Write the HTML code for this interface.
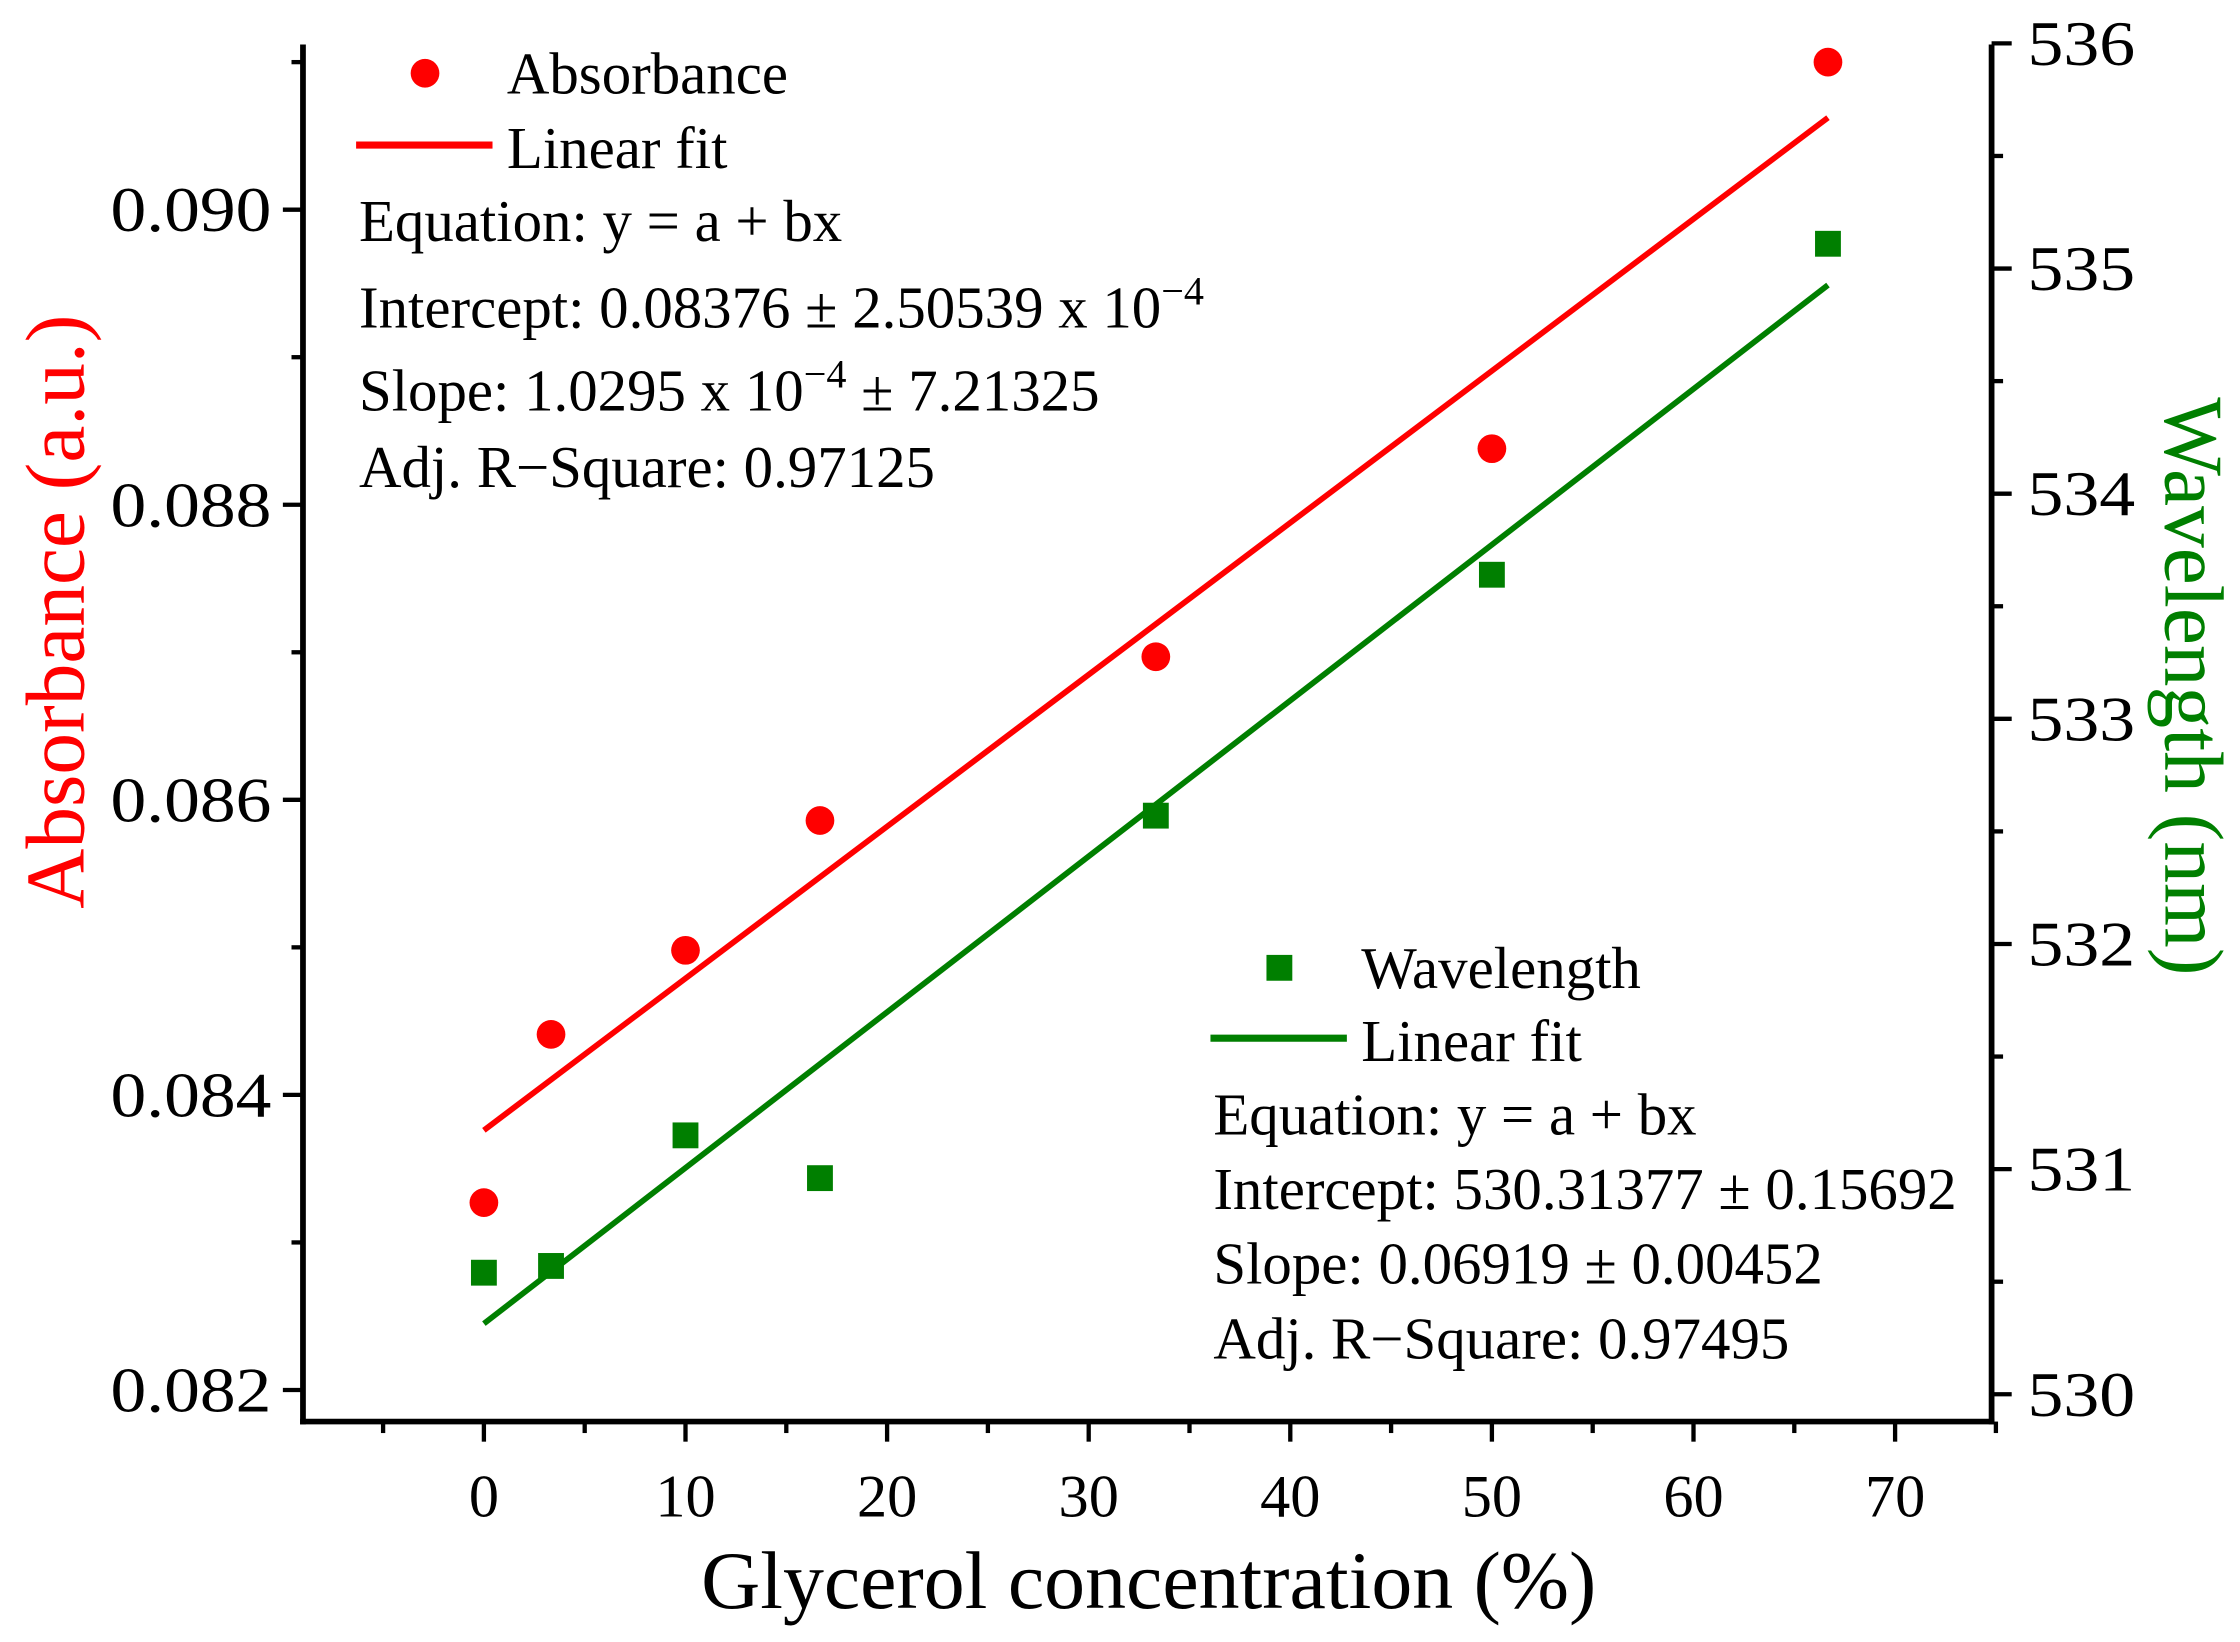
<!DOCTYPE html>
<html><head><meta charset="utf-8"><style>
html,body{margin:0;padding:0;background:#fff}
svg{display:block;font-family:"Liberation Serif",serif}
</style></head><body>
<svg id="chart" width="2240" height="1642" viewBox="0 0 1560 1143.5" xmlns="http://www.w3.org/2000/svg"></svg>
<script>
const xValues=[0,3.33,10,16.67,33.33,50,66.67];
const absValues=[0.08327,0.08441,0.08498,0.08586,0.08697,0.08838,0.0910];
const wlValues=[530.54,530.57,531.15,530.96,532.57,533.64,535.11];
const absFit=[0.08376,1.0295e-4];
const wlFit=[530.31377,0.06919];
const xTicks=[0,10,20,30,40,50,60,70];
const xMinor=[-5,5,15,25,35,45,55,65,75];
const yTicks=[0.082,0.084,0.086,0.088,0.090];
const yMinor=[0.083,0.085,0.087,0.089,0.091];
const y2Ticks=[530,531,532,533,534,535,536];
const y2Minor=[530.5,531.5,532.5,533.5,534.5,535.5];

const L=211,R=1387,T=31,B=990;
const sx=v=>337+(v-0)*14.04;
const sy=v=>968-(v-0.082)*102750;
const sy2=v=>971-(v-530)*156.8;
const svg=document.getElementById('chart');
const NS='http://www.w3.org/2000/svg';
function mk(tag,attrs,parent){const e=document.createElementNS(NS,tag);for(const k in attrs)e.setAttribute(k,attrs[k]);(parent||svg).appendChild(e);return e;}
function txt(s,x,y,size,anchor,fill,parent){const t=mk('text',{x:x,y:y,'font-size':size,'text-anchor':anchor||'start',fill:fill||'#000'},parent);t.textContent=s;return t;}

const axes=mk('g',{});


mk('line',{x1:L,y1:T,x2:L,y2:B+2,stroke:'#000','stroke-width':4},axes);
mk('line',{x1:R,y1:T,x2:R,y2:B+2,stroke:'#000','stroke-width':4},axes);
mk('line',{x1:L-2,y1:B,x2:R+2,y2:B,stroke:'#000','stroke-width':4},axes);

xTicks.forEach(v=>{mk('line',{x1:sx(v),y1:B,x2:sx(v),y2:B+14,stroke:'#000','stroke-width':3},axes);
 const t=txt(String(v),sx(v),B+66,42,'middle');
 
 });
xMinor.forEach(v=>mk('line',{x1:sx(v),y1:B,x2:sx(v),y2:B+8,stroke:'#000','stroke-width':3},axes));
yTicks.forEach(v=>{mk('line',{x1:L-14,y1:sy(v),x2:L,y2:sy(v),stroke:'#000','stroke-width':3},axes);
 const t=txt(v.toFixed(3),L-22,sy(v)+15,44,'end');
 t.setAttribute('textLength',112);
 t.setAttribute('lengthAdjust','spacingAndGlyphs');
 
 });
yMinor.forEach(v=>mk('line',{x1:L-8,y1:sy(v),x2:L,y2:sy(v),stroke:'#000','stroke-width':3},axes));
y2Ticks.forEach(v=>{mk('line',{x1:R,y1:sy2(v),x2:R+14,y2:sy2(v),stroke:'#000','stroke-width':3},axes);
 const t=txt(String(v),R+25,sy2(v)+15,44,'start');
 t.setAttribute('textLength',75);
 t.setAttribute('lengthAdjust','spacingAndGlyphs');
 
 });
y2Minor.forEach(v=>mk('line',{x1:R,y1:sy2(v),x2:R+8,y2:sy2(v),stroke:'#000','stroke-width':3},axes));

let t=txt('Glycerol concentration (%)',800,1120,57,'middle');


t=txt('Absorbance (a.u.)',0,0,58,'middle','#ff0000');
t.setAttribute('transform','translate(58,426) rotate(-90)');


t=txt('Wavelength (nm)',0,0,58,'middle','#007f00');
t.setAttribute('transform','translate(1508,478) rotate(90)');



const x0=xValues[0],x1=xValues[xValues.length-1];
let ln=mk('line',{x1:sx(x0),y1:sy(absFit[0]+absFit[1]*x0),x2:sx(x1),y2:sy(absFit[0]+absFit[1]*x1),stroke:'#ff0000','stroke-width':4});


ln=mk('line',{x1:sx(x0),y1:sy2(wlFit[0]+wlFit[1]*x0),x2:sx(x1),y2:sy2(wlFit[0]+wlFit[1]*x1),stroke:'#007f00','stroke-width':4});



xValues.forEach((x,i)=>{
 const c=mk('circle',{cx:sx(x),cy:sy(absValues[i]),r:10,fill:'#ff0000'});
 
 
 const s=mk('rect',{x:sx(x)-9,y:sy2(wlValues[i])-9,width:18,height:18,fill:'#007f00'});
 
 
});

const lg1=mk('g',{});


mk('circle',{cx:296,cy:51,r:10,fill:'#ff0000'},lg1);
txt('Absorbance',353,65,41,'start','#000',lg1);
mk('line',{x1:248,y1:101,x2:343,y2:101,stroke:'#ff0000','stroke-width':5},lg1);
txt('Linear fit',353,117,41,'start','#000',lg1);
txt('Equation: y = a + bx',250,168,41,'start','#000',lg1);
let e=txt('Intercept: 0.08376 ± 2.50539 x 10',250,228,41,'start','#000',lg1);
let sp=mk('tspan',{dy:-16,'font-size':28},e);sp.textContent='−4';
e=txt('Slope: 1.0295 x 10',250,286,41,'start','#000',lg1);
sp=mk('tspan',{dy:-16,'font-size':28},e);sp.textContent='−4';
sp=mk('tspan',{dy:16},e);sp.textContent=' ± 7.21325';
txt('Adj. R−Square: 0.97125',250,339,41,'start','#000',lg1);

const lg2=mk('g',{});


mk('rect',{x:882,y:665,width:18,height:18,fill:'#007f00'},lg2);
txt('Wavelength',948,688,41,'start','#000',lg2);
mk('line',{x1:843,y1:723,x2:938,y2:723,stroke:'#007f00','stroke-width':5},lg2);
txt('Linear fit',948,739,41,'start','#000',lg2);
txt('Equation: y = a + bx',845,790,41,'start','#000',lg2);
txt('Intercept: 530.31377 ± 0.15692',845,842,41,'start','#000',lg2);
txt('Slope: 0.06919 ± 0.00452',845,894,41,'start','#000',lg2);
txt('Adj. R−Square: 0.97495',845,946,41,'start','#000',lg2);
</script>
</body></html>
